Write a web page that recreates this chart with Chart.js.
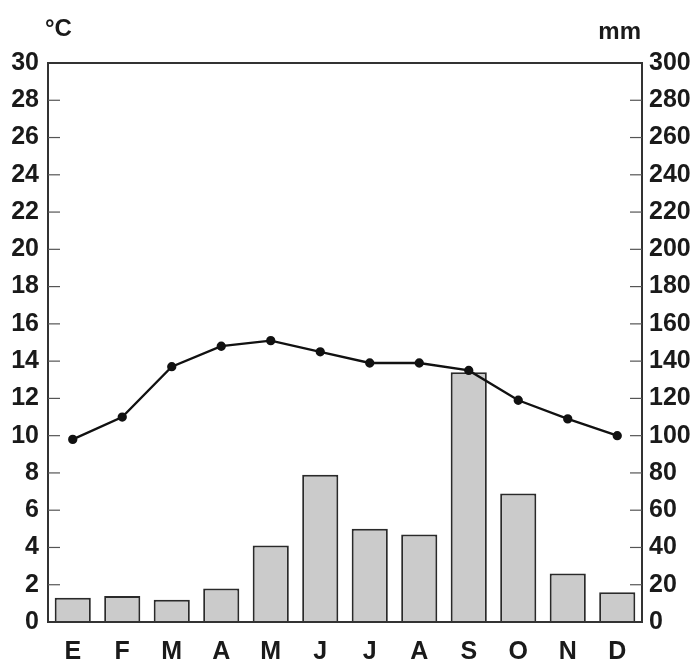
<!DOCTYPE html>
<html>
<head>
<meta charset="utf-8">
<script src="https://cdn.jsdelivr.net/npm/chart.js@4/dist/chart.umd.min.js"></script>
<style>
  body { margin: 0; background: #fff; }
  canvas { display: block; }
</style>
</head>
<body>
<canvas id="myChart" width="700" height="664"></canvas>
<script>
let months = ['E', 'F', 'M', 'A', 'M', 'J', 'J', 'A', 'S', 'O', 'N', 'D']
let temperature = [9.8, 11.0, 13.7, 14.8, 15.1, 14.5, 13.9, 13.9, 13.5, 11.9, 10.9, 10.0]
let rainfall = [13, 14, 12, 18, 41, 79, 50, 47, 134, 69, 26, 16]

let labelFont = { family: 'Liberation Sans, Arial, sans-serif', size: 25, weight: 'bold' }
let ink = '#1a1a1a'

// ticks pointing inside the box, plus the frame and the unit labels
let frame = {
    id: 'frame',
    afterDatasetsDraw(chart) {
        let { ctx, chartArea: a, scales } = chart
        ctx.save()
        ctx.strokeStyle = '#333'
        ctx.lineWidth = 2
        ctx.strokeRect(a.left, a.top, a.right - a.left, a.bottom - a.top)

        ctx.lineWidth = 1.2
        ctx.strokeStyle = '#555'
        scales.y.ticks.forEach(t => {
            if (t.value <= 0 || t.value >= 30) return
            let y = scales.y.getPixelForValue(t.value)
            ctx.beginPath(); ctx.moveTo(a.left, y); ctx.lineTo(a.left + 12, y); ctx.stroke()
        })
        scales.y1.ticks.forEach(t => {
            if (t.value <= 0 || t.value >= 300) return
            let y = scales.y1.getPixelForValue(t.value)
            ctx.beginPath(); ctx.moveTo(a.right - 12, y); ctx.lineTo(a.right, y); ctx.stroke()
        })

        ctx.fillStyle = ink
        ctx.font = 'bold 24px Liberation Sans, Arial, sans-serif'
        ctx.textBaseline = 'middle'
        ctx.textAlign = 'left'
        ctx.fillText('°C', 45, 29)
        ctx.textAlign = 'right'
        ctx.fillText('mm', 641, 32)
        ctx.restore()
    }
}

let ctx = document.getElementById('myChart')
let myChart = new Chart(ctx, {
    data: {
        labels: months,
        datasets: [
            {
                type: 'line',
                label: 'Temperatura',
                data: temperature,
                yAxisID: 'y',
                borderColor: '#111',
                borderWidth: 2.3,
                pointRadius: 3.5,
                pointBackgroundColor: '#111',
                pointBorderColor: '#111',
                tension: 0,
                order: 0
            },
            {
                type: 'bar',
                label: 'Precipitación',
                data: rainfall,
                yAxisID: 'y1',
                backgroundColor: '#cbcbcb',
                borderColor: '#2a2a2a',
                borderWidth: 2,
                barPercentage: 0.73,
                categoryPercentage: 1,
                order: 1
            }
        ]
    },
    options: {
        responsive: false,
        animation: false,
        layout: { padding: { top: 63, left: 0, right: 0, bottom: 0 } },
        plugins: { legend: { display: false }, tooltip: { enabled: false } },
        scales: {
            x: {
                offset: true,
                grid: { display: false, drawTicks: false },
                border: { display: false },
                ticks: { color: ink, font: labelFont, padding: 15 },
                afterFit(s) { s.height = 42 }
            },
            y: {
                position: 'left',
                min: 0,
                max: 30,
                grid: { display: false, drawTicks: false },
                border: { display: false },
                ticks: { stepSize: 2, color: ink, font: labelFont, padding: 9 },
                afterFit(s) { s.width = 48 }
            },
            y1: {
                position: 'right',
                min: 0,
                max: 300,
                grid: { display: false, drawTicks: false },
                border: { display: false },
                ticks: { stepSize: 20, color: ink, font: labelFont, padding: 7 },
                afterFit(s) { s.width = 58 }
            }
        }
    },
    plugins: [frame]
})
</script>
</body>
</html>
